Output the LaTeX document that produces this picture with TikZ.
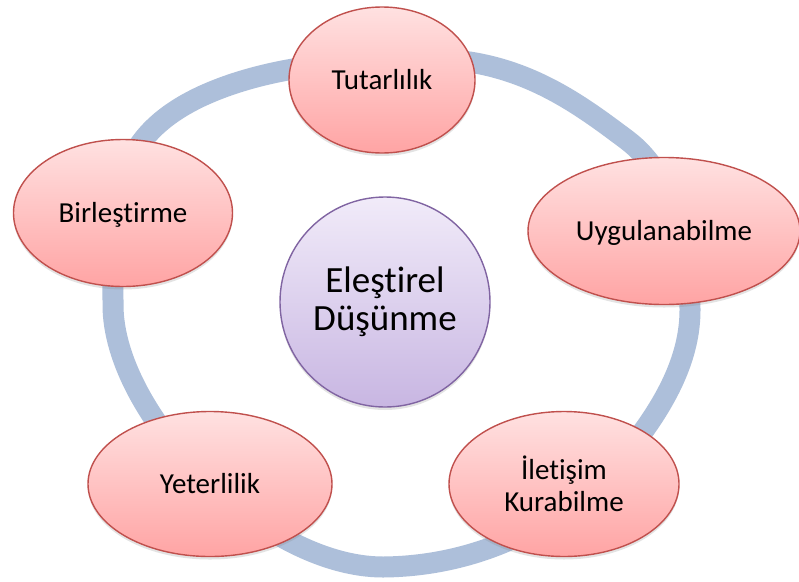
\documentclass[tikz,border=0pt]{standalone}
\usepackage{fontspec}
\setmainfont{Carlito}[Ligatures=NoCommon]
\usetikzlibrary{shapes.geometric,shadows}
\definecolor{ringc}{RGB}{173,191,218}
\definecolor{pinktop}{RGB}{255,225,225}
\definecolor{pinkbot}{RGB}{255,164,164}
\definecolor{pinkline}{RGB}{192,80,77}
\definecolor{purtop}{RGB}{241,235,249}
\definecolor{purbot}{RGB}{200,182,226}
\definecolor{purline}{RGB}{128,100,162}
\begin{document}
\begin{tikzpicture}[x=1pt,y=-1pt,
  bubble/.style={ellipse, draw=pinkline, line width=1.4pt,
    top color=pinktop, bottom color=pinkbot, inner sep=0pt,
    font=\fontsize{29}{32}\selectfont, align=center, text=black,
    drop shadow={opacity=0.22, shadow xshift=0pt, shadow yshift=-3pt}},
  hub/.style={circle, draw=purline, line width=1.4pt,
    top color=purtop, bottom color=purbot, inner sep=0pt,
    minimum size=210pt, font=\fontsize{37}{38}\selectfont, align=center,
    drop shadow={opacity=0.22, shadow xshift=0pt, shadow yshift=-3pt}},
  ring/.style={draw=ringc, line width=21pt}]
\useasboundingbox (0,0) rectangle (799,581);
\fill[white] (0,0) rectangle (799,581);

\draw[ring] (113,305) .. controls (113,205) and (110,140) .. (200,97)
  .. controls (268,65) and (355,59) .. (430,59)
  .. controls (520,59) and (579,104) .. (627,140)
  .. controls (675,176) and (690,250) .. (690,310)
  .. controls (690,350) and (673,387) .. (651,420)
  .. controls (590,511) and (493,566) .. (383,567)
  .. controls (263,567) and (113,415) .. cycle;

\node[hub] (hub) at (385,302) {Eleştirel\\Düşünme};
\node[bubble, minimum width=186pt, minimum height=146pt, text height=19pt, text depth=0pt] (tut) at (382,80) {Tutarlılık};
\node[bubble, minimum width=272pt, minimum height=147pt, text height=19pt, text depth=0pt] (uyg) at (664,231) {Uygulanabilme};
\node[bubble, minimum width=230pt, minimum height=145pt] (ile) at (564,484) {İletişim\\Kurabilme};
\node[bubble, minimum width=244pt, minimum height=145pt, text height=19pt, text depth=0pt] (yet) at (210,484) {Yeterlilik};
\node[bubble, minimum width=219pt, minimum height=147pt, text height=19pt, text depth=0pt] (bir) at (123,213) {Birleştirme};
\end{tikzpicture}
\end{document}
